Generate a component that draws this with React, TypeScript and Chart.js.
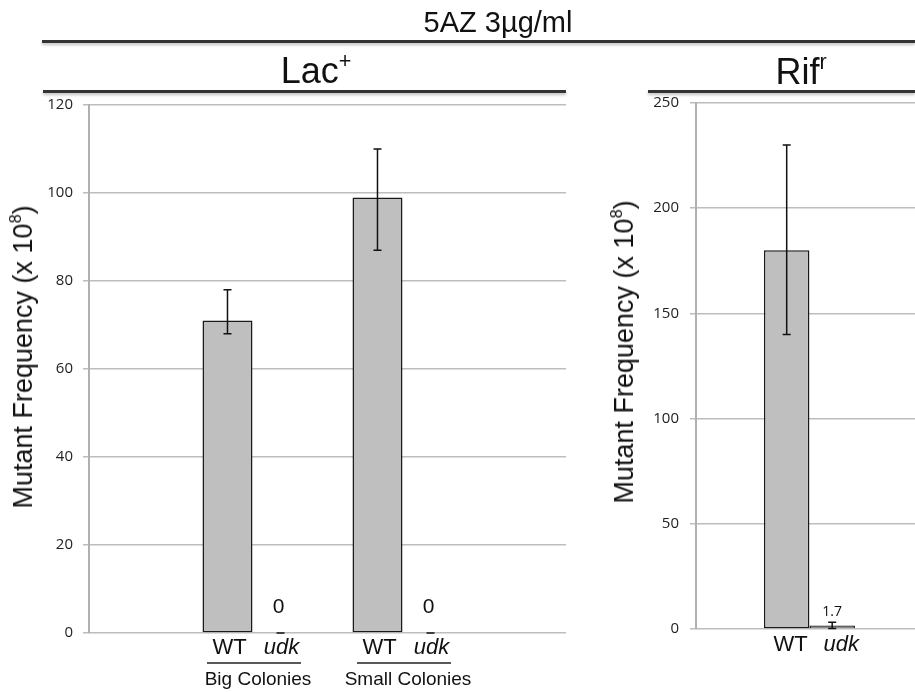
import React, { useEffect, useRef } from 'react';
import { Chart, registerables } from 'chart.js';

Chart.register(...registerables);

// ---------- data ----------
const strains = ['WT', 'udk'];

const lacGroups = ['Big Colonies', 'Small Colonies'];
const lacWT = [71, 99];
const lacWTLow = [68, 87];
const lacWTHigh = [78, 110];
const lacUdk = [0, 0];
const lacUdkLow = [0, 0];
const lacUdkHigh = [0, 0];
const lacUdkLabels = ['0', '0'];
const lacYMax = 120;
const lacYStep = 20;

const rifGroups = [''];
const rifWT = [180];
const rifWTLow = [140];
const rifWTHigh = [230];
const rifUdk = [1.7];
const rifUdkLow = [0.2];
const rifUdkHigh = [3.2];
const rifUdkLabels = ['1.7'];
const rifYMax = 250;
const rifYStep = 50;

const SANS = "'Liberation Sans', Arial, Helvetica, sans-serif";
const TICKFONT = "'Open Sans', 'Liberation Sans', sans-serif";

// ---------- plugins ----------
const errorBarPlugin = {
  id: 'errorBars',
  afterDatasetsDraw(chart: any) {
    const ctx = chart.ctx;
    const ys = chart.scales.y;
    chart.data.datasets.forEach((ds: any, di: number) => {
      const meta = chart.getDatasetMeta(di);
      meta.data.forEach((bar: any, i: number) => {
        const x = bar.x;
        const yl = ys.getPixelForValue(ds.errLow[i]);
        const yh = ys.getPixelForValue(ds.errHigh[i]);
        ctx.save();
        ctx.strokeStyle = '#111';
        ctx.lineWidth = 1.5;
        ctx.beginPath();
        ctx.moveTo(x, yl);
        ctx.lineTo(x, yh);
        ctx.moveTo(x - 4, yl);
        ctx.lineTo(x + 4, yl);
        ctx.moveTo(x - 4, yh);
        ctx.lineTo(x + 4, yh);
        ctx.stroke();
        ctx.restore();
      });
    });
  },
};

const labelsPlugin = {
  id: 'barLabels',
  afterDraw(chart: any, _args: any, opts: any) {
    const ctx = chart.ctx;
    const ys = chart.scales.y;
    const area = chart.chartArea;
    ctx.save();
    ctx.textAlign = 'center';
    ctx.textBaseline = 'middle';
    ctx.fillStyle = '#111';
    // value labels
    chart.data.datasets.forEach((ds: any, di: number) => {
      if (!ds.valueLabels) return;
      const meta = chart.getDatasetMeta(di);
      meta.data.forEach((bar: any, i: number) => {
        ctx.font = opts.valueFont;
        const yh = ys.getPixelForValue(ds.errHigh[i]);
        ctx.fillText(ds.valueLabels[i], bar.x + (opts.valueDx || 0), yh - opts.valueOffset);
      });
    });
    // strain labels under bars
    chart.data.datasets.forEach((ds: any, di: number) => {
      const meta = chart.getDatasetMeta(di);
      meta.data.forEach((bar: any) => {
        ctx.font = (ds.italic ? 'italic ' : '') + opts.strainFont;
        ctx.fillText(ds.label, bar.x + (ds.italic ? opts.italicDx : opts.plainDx), area.bottom + opts.strainOffset);
      });
    });
    // group underline + group names
    if (opts.groups) {
      const m0 = chart.getDatasetMeta(0);
      const m1 = chart.getDatasetMeta(chart.data.datasets.length - 1);
      opts.groups.forEach((g: string, i: number) => {
        const x0 = m0.data[i].x - m0.data[i].width / 2;
        const x1 = m1.data[i].x + m1.data[i].width / 2;
        const cx = (x0 + x1) / 2;
        ctx.strokeStyle = '#222';
        ctx.lineWidth = 1.5;
        ctx.beginPath();
        ctx.moveTo(cx - 47, area.bottom + opts.lineOffset);
        ctx.lineTo(cx + 47, area.bottom + opts.lineOffset);
        ctx.stroke();
        ctx.font = opts.groupFont;
        ctx.fillText(g, cx + 4, area.bottom + opts.groupOffset);
      });
    }
    ctx.restore();
  },
};

function makeConfig(p: {
  groups: string[];
  wt: number[]; wtLow: number[]; wtHigh: number[];
  udk: number[]; udkLow: number[]; udkHigh: number[]; udkLabels: string[];
  yMax: number; yStep: number;
  xMin: number; xMax: number;
  catPct: number; barPct: number;
  padTop: number; padBottom: number; axisW: number; tickPad: number;
  labelOpts: any;
}) {
  return {
    type: 'bar',
    data: {
      datasets: [
        {
          label: strains[0],
          data: p.wt.map((v, i) => ({ x: i, y: v })),
          errLow: p.wtLow,
          errHigh: p.wtHigh,
          backgroundColor: '#bfbfbf',
          borderColor: '#1a1a1a',
          borderWidth: 1.5,
          borderSkipped: false,
          italic: false,
        },
        {
          label: strains[1],
          data: p.udk.map((v, i) => ({ x: i, y: v })),
          errLow: p.udkLow,
          errHigh: p.udkHigh,
          valueLabels: p.udkLabels,
          backgroundColor: '#8c8c8c',
          borderColor: '#1a1a1a',
          borderWidth: 1.5,
          borderSkipped: 'start',
          italic: true,
        },
      ],
    },
    options: {
      animation: false,
      responsive: true,
      maintainAspectRatio: false,
      layout: { padding: { top: p.padTop, bottom: p.padBottom, left: 0, right: 0 } },
      datasets: { bar: { categoryPercentage: p.catPct, barPercentage: p.barPct } },
      plugins: {
        legend: { display: false },
        tooltip: { enabled: false },
        barLabels: { ...p.labelOpts, groups: p.groups.some((g) => g) ? p.groups : null },
      },
      scales: {
        x: {
          type: 'linear',
          display: false,
          offset: false,
          min: p.xMin,
          max: p.xMax,
          afterBuildTicks: (s: any) => {
            s.ticks = p.groups.map((_, i) => ({ value: i }));
          },
        },
        y: {
          min: 0,
          max: p.yMax,
          ticks: {
            stepSize: p.yStep,
            color: '#222',
            padding: p.tickPad,
            font: { family: TICKFONT, size: 15 },
          },
          grid: { color: '#bdbdbd', lineWidth: 1.5, tickLength: 6 },
          border: { color: '#b0b0b0', width: 2 },
          afterFit: (s: any) => {
            s.width = p.axisW;
          },
        },
      },
    },
    plugins: [errorBarPlugin, labelsPlugin],
  };
}

function ChartBox(props: { cfg: any; style: React.CSSProperties }) {
  const ref = useRef<HTMLCanvasElement | null>(null);
  useEffect(() => {
    if (!ref.current) return;
    const chart = new Chart(ref.current, props.cfg);
    return () => chart.destroy();
  }, []);
  return (
    <div style={{ position: 'absolute', ...props.style }}>
      <canvas ref={ref} />
    </div>
  );
}

const sup: React.CSSProperties = { fontSize: '0.6em', position: 'relative', top: '-0.7em', verticalAlign: 'baseline' };

function Rule(props: { left: number; right: number; top: number }) {
  return (
    <div
      style={{
        position: 'absolute',
        left: props.left,
        width: props.right - props.left,
        top: props.top - 1,
        height: 2.5,
        background: '#333',
        boxShadow: '0 2px 3px rgba(0,0,0,0.25)',
      }}
    />
  );
}

export default function App() {
  const lacCfg = makeConfig({
    groups: lacGroups,
    wt: lacWT, wtLow: lacWTLow, wtHigh: lacWTHigh,
    udk: lacUdk, udkLow: lacUdkLow, udkHigh: lacUdkHigh, udkLabels: lacUdkLabels,
    yMax: lacYMax, yStep: lacYStep,
    xMin: -1.1, xMax: 2.08,
    catPct: 0.707, barPct: 0.943,
    padTop: 105, padBottom: 59, axisW: 89, tickPad: 10,
    labelOpts: {
      valueFont: `21px ${SANS}`, valueOffset: 26, valueDx: -2,
      strainFont: `22px ${SANS}`, strainOffset: 15, plainDx: 2, italicDx: 1,
      lineOffset: 30, groupOffset: 47, groupFont: `19px ${SANS}`,
    },
  });
  const rifCfg = makeConfig({
    groups: rifGroups,
    wt: rifWT, wtLow: rifWTLow, wtHigh: rifWTHigh,
    udk: rifUdk, udkLow: rifUdkLow, udkHigh: rifUdkHigh, udkLabels: rifUdkLabels,
    yMax: rifYMax, yStep: rifYStep,
    xMin: -0.518, xMax: 0.482,
    catPct: 0.4155, barPct: 1.0,
    padTop: 103, padBottom: 63, axisW: 96, tickPad: 11,
    labelOpts: {
      valueFont: `14px ${TICKFONT}`, valueOffset: 10, valueDx: 0,
      strainFont: `22px ${SANS}`, strainOffset: 16, plainDx: 4, italicDx: 9,
      lineOffset: 30, groupOffset: 47, groupFont: `19px ${SANS}`,
    },
  });

  return (
    <div
      style={{
        position: 'absolute',
        left: 0,
        top: 0,
        width: 915,
        height: 692,
        background: '#fff',
        fontFamily: SANS,
        color: '#111',
        overflow: 'hidden',
      }}
    >
      <ChartBox cfg={lacCfg} style={{ left: 0, top: 0, width: 566, height: 692 }} />
      <ChartBox cfg={rifCfg} style={{ left: 600, top: 0, width: 315, height: 692 }} />

      <div style={{ position: 'absolute', left: 498, top: 8, transform: 'translateX(-50%)', fontSize: 29, lineHeight: '29px', whiteSpace: 'nowrap' }}>
        5AZ 3µg/ml
      </div>
      <Rule left={42} right={915} top={41} />

      <div style={{ position: 'absolute', left: 316, top: 53, transform: 'translateX(-50%)', fontSize: 36, lineHeight: '36px', whiteSpace: 'nowrap' }}>
        Lac<span style={sup}>+</span>
      </div>
      <Rule left={43} right={566} top={91} />

      <div style={{ position: 'absolute', left: 801, top: 54, transform: 'translateX(-50%)', fontSize: 36, lineHeight: '36px', whiteSpace: 'nowrap' }}>
        Rif<span style={sup}>r</span>
      </div>
      <Rule left={648} right={915} top={91} />

      <div style={{ position: 'absolute', left: 25, top: 357, transform: 'translate(-50%, -50%) rotate(-90deg)', fontSize: 27, lineHeight: '27px', whiteSpace: 'nowrap' }}>
        Mutant Frequency (x 10<span style={sup}>8</span>)
      </div>
      <div style={{ position: 'absolute', left: 626, top: 352, transform: 'translate(-50%, -50%) rotate(-90deg)', fontSize: 27, lineHeight: '27px', whiteSpace: 'nowrap' }}>
        Mutant Frequency (x 10<span style={sup}>8</span>)
      </div>
    </div>
  );
}
